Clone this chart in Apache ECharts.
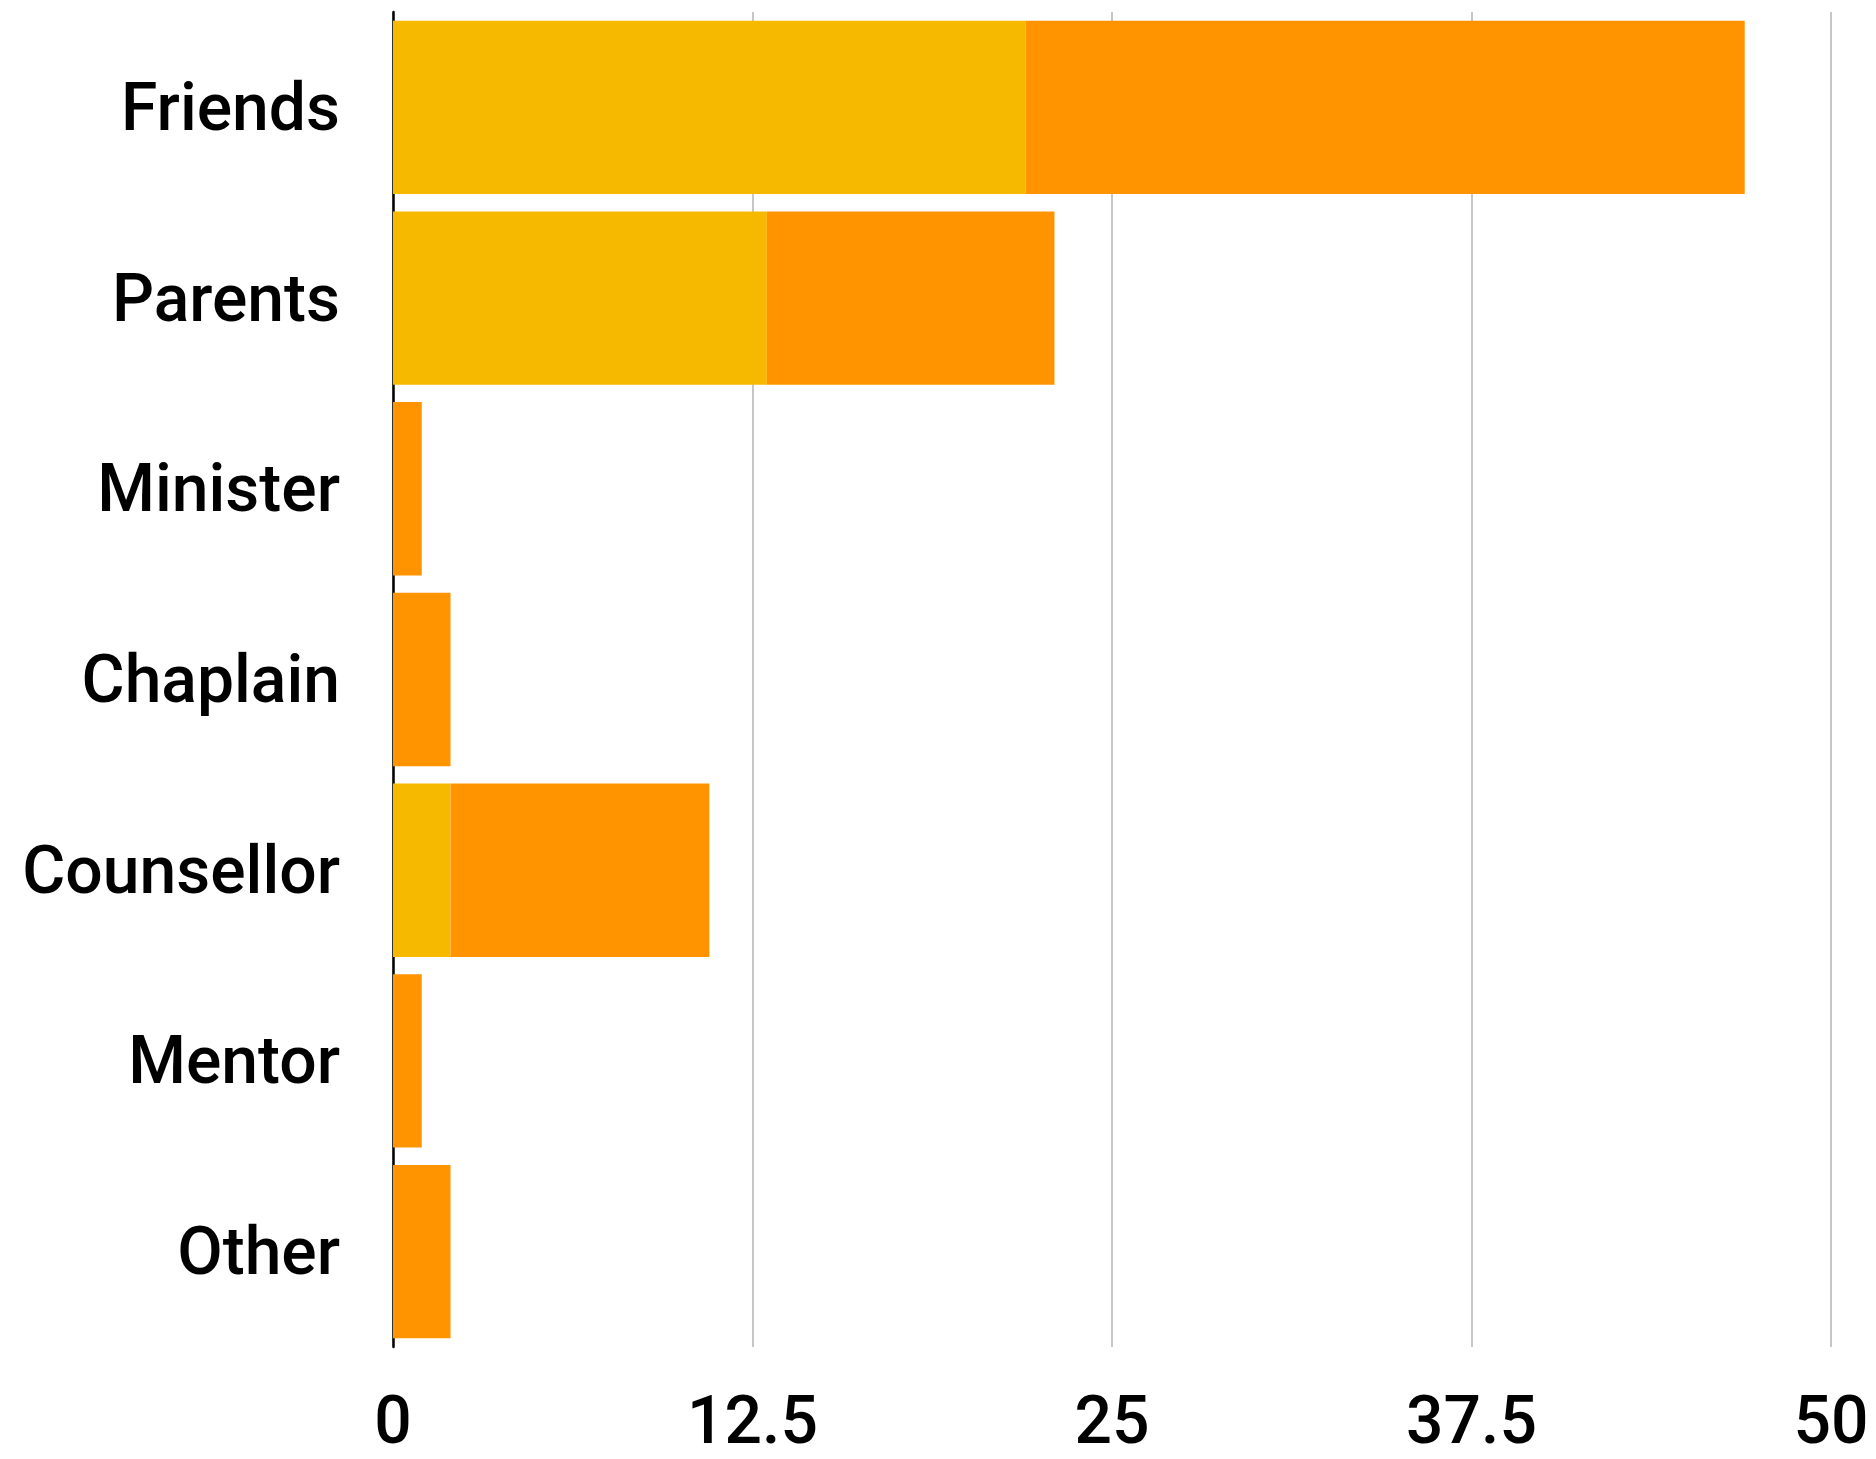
<!DOCTYPE html>
<html>
<head>
<meta charset="utf-8">
<script src="https://cdn.jsdelivr.net/npm/echarts@6/dist/echarts.min.js"></script>
<style>
  html, body { margin: 0; padding: 0; background: #ffffff; }
  #chart { width: 1876px; height: 1459px; }
</style>
</head>
<body>
<div id="chart"></div>
<script>
// Who people turned to, split into two stacked groups
const categories = ['Friends', 'Parents', 'Minister', 'Chaplain', 'Counsellor', 'Mentor', 'Other'];
const groupA = [22, 13, 0, 0, 2, 0, 0];
const groupB = [25, 10, 1, 2, 9, 1, 2];
const valueTicks = [0, 12.5, 25, 37.5, 50];

const labelFont = {
  fontFamily: 'Roboto',
  fontWeight: 500,
  fontSize: 66,
  color: '#000000'
};

const chart = echarts.init(document.getElementById('chart'), null, { renderer: 'canvas' });

chart.setOption({
  animation: false,
  backgroundColor: '#ffffff',
  grid: { left: 393, right: 45, top: 12, bottom: 106, containLabel: false },
  xAxis: {
    type: 'value',
    min: valueTicks[0],
    max: valueTicks[valueTicks.length - 1],
    interval: valueTicks[1] - valueTicks[0],
    axisLine: { show: false },
    axisTick: { show: false },
    splitLine: { show: true, lineStyle: { color: '#c6c6c6', width: 2 } },
    axisLabel: Object.assign({ margin: 46, formatter: v => String(v) }, labelFont)
  },
  yAxis: {
    type: 'category',
    data: categories,
    inverse: true,
    axisLine: { show: true, lineStyle: { color: '#000000', width: 2.5 } },
    axisTick: { show: false },
    splitLine: { show: false },
    axisLabel: {
      margin: 53,
      formatter: v => '{c|' + v + '}',
      rich: { c: Object.assign({ padding: [12, 0, 0, 0] }, labelFont) }
    }
  },
  series: [
    {
      name: 'Group A',
      type: 'bar',
      stack: 'total',
      data: groupA,
      barCategoryGap: '9.1%',
      itemStyle: { color: '#f6b900' }
    },
    {
      name: 'Group B',
      type: 'bar',
      stack: 'total',
      data: groupB,
      barCategoryGap: '9.1%',
      itemStyle: { color: '#ff9300' }
    }
  ]
});
</script>
</body>
</html>
